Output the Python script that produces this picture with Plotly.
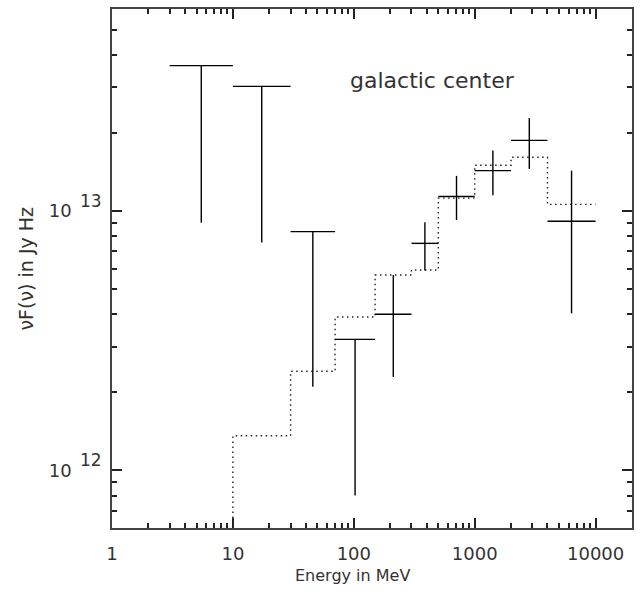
import numpy as np
import plotly.graph_objects as go

# ---------------- data ----------------
bin_lo = [3, 10, 30, 70, 150, 300, 500, 1000, 2000, 4000]          # MeV
bin_hi = [10, 30, 70, 150, 300, 500, 1000, 2000, 4000, 10000]      # MeV
flux = [3.63e13, 3.02e13, 8.32e12, 3.20e12, 4.0e12, 7.50e12, 1.136e13, 1.43e13, 1.87e13, 9.12e12]
flux_low = [9.0e12, 7.55e12, 2.10e12, 8.0e11, 2.29e12, 5.89e12, 9.23e12, 1.15e13, 1.45e13, 4.03e12]
flux_high = [3.63e13, 3.02e13, 8.32e12, 3.20e12, 5.66e12, 9.04e12, 1.365e13, 1.71e13, 2.28e13, 1.43e13]

model_lo = [10, 30, 70, 150, 300, 500, 1000, 2000, 4000]
model_hi = [30, 70, 150, 300, 500, 1000, 2000, 4000, 10000]
model = [1.36e12, 2.41e12, 3.90e12, 5.66e12, 5.92e12, 1.12e13, 1.50e13, 1.61e13, 1.06e13]

x_ticks = [1, 10, 100, 1000, 10000]
x_ticktext = ["1", "10", "100", "1000", "10000"]
y_ticks = [1e12, 1e13]
y_tick_base = ["10", "10"]
y_tick_exp = ["12", "13"]

x_range = (1, 2e4)
y_range = (6e11, 6e13)

title_text = "galactic center"
x_title = "Energy in MeV"
y_title = "νF(ν) in Jy Hz"

# ---------------- build ----------------
px, py = [], []
for lo, hi, f, fl, fh in zip(bin_lo, bin_hi, flux, flux_low, flux_high):
    xc = float(np.sqrt(lo * hi))
    px += [lo, hi, None, xc, xc, None]
    py += [f, f, None, fl, fh, None]

mx, my = [model_lo[0]], [y_range[0]]
for lo, hi, v in zip(model_lo, model_hi, model):
    mx += [lo, hi]
    my += [v, v]

minor_x = [m * 10 ** k for k in range(0, 5) for m in range(2, 10) if m * 10 ** k <= x_range[1]]
minor_y = [m * 10 ** k for k in range(11, 14) for m in range(2, 10)
           if y_range[0] <= m * 10 ** k <= y_range[1]]

fig = go.Figure()
fig.add_trace(go.Scatter(x=mx, y=my, mode="lines",
                         line=dict(color="#222", width=1.4, dash="1.5px,3.5px"),
                         hoverinfo="skip", showlegend=False))
fig.add_trace(go.Scatter(x=px, y=py, mode="lines",
                         line=dict(color="black", width=1.4),
                         connectgaps=False, showlegend=False))

FONT = "DejaVu Sans"
TXT = "#333"
axis_common = dict(
    type="log", showgrid=False, zeroline=False,
    showline=True, linecolor="#444", linewidth=1.5, mirror="allticks",
    ticks="inside", ticklen=10, tickwidth=1.5, tickcolor="#222",
    tickfont=dict(family=FONT, size=18, color=TXT),
    tickmode="array",
)

annotations = [
    dict(text=title_text, xref="paper", yref="paper", x=0.617, y=0.863,
         xanchor="center", yanchor="middle", showarrow=False,
         font=dict(family=FONT, size=22, color=TXT)),
    dict(text=x_title, xref="paper", yref="paper", x=0.462, y=0, yshift=-47,
         xanchor="center", yanchor="middle", showarrow=False,
         font=dict(family=FONT, size=16, color=TXT)),
    dict(text=y_title, xref="paper", yref="paper", x=0, y=0.5, xshift=-87,
         xanchor="center", yanchor="middle", textangle=-90, showarrow=False,
         font=dict(family=FONT, size=19, color=TXT)),
]
# exponents of the y tick labels (full-size superscripts, as in the original)
for val, ex in zip(y_ticks, y_tick_exp):
    annotations.append(dict(text=ex, xref="paper", yref="y", x=0, y=np.log10(val),
                            xshift=-21, yshift=10, xanchor="center", yanchor="middle",
                            showarrow=False, font=dict(family=FONT, size=17, color=TXT)))

fig.update_layout(
    width=640, height=594,
    margin=dict(l=112, r=6, t=9, b=66),
    paper_bgcolor="white", plot_bgcolor="white",
    xaxis=dict(axis_common, range=[np.log10(x_range[0]), np.log10(x_range[1])],
               tickvals=x_ticks, ticktext=x_ticktext, ticklabelstandoff=9,
               minor=dict(tickmode="array", tickvals=minor_x, ticks="inside",
                          ticklen=5, tickwidth=1.5, tickcolor="#222", showgrid=False)),
    yaxis=dict(axis_common, range=[np.log10(y_range[0]), np.log10(y_range[1])],
               tickvals=y_ticks, ticktext=y_tick_base, ticklabelstandoff=35,
               minor=dict(tickmode="array", tickvals=minor_y, ticks="inside",
                          ticklen=5, tickwidth=1.5, tickcolor="#222", showgrid=False)),
    annotations=annotations,
)

fig.write_html("out.html")
